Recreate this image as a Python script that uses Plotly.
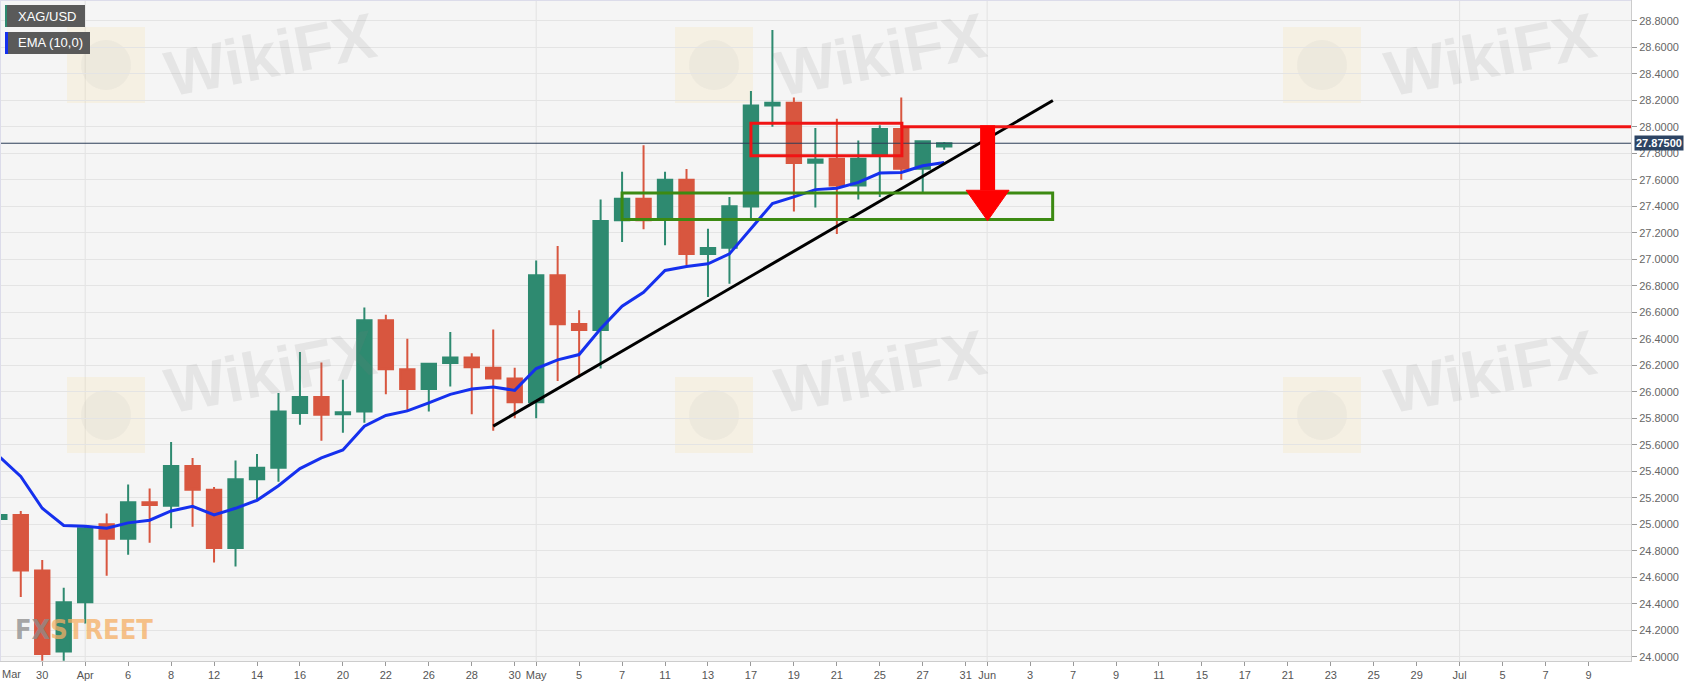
import plotly.graph_objects as go

# ---------------- data ----------------
dates = ["2021-03-26", "2021-03-29", "2021-03-30", "2021-03-31", "2021-04-01",
         "2021-04-05", "2021-04-06", "2021-04-07", "2021-04-08", "2021-04-09",
         "2021-04-12", "2021-04-13", "2021-04-14", "2021-04-15", "2021-04-16",
         "2021-04-19", "2021-04-20", "2021-04-21", "2021-04-22", "2021-04-23",
         "2021-04-26", "2021-04-27", "2021-04-28", "2021-04-29", "2021-04-30",
         "2021-05-03", "2021-05-04", "2021-05-05", "2021-05-06", "2021-05-07",
         "2021-05-10", "2021-05-11", "2021-05-12", "2021-05-13", "2021-05-14",
         "2021-05-17", "2021-05-18", "2021-05-19", "2021-05-20", "2021-05-21",
         "2021-05-24", "2021-05-25", "2021-05-26", "2021-05-27", "2021-05-28"]

future_dates = ["2021-05-31", "2021-06-01", "2021-06-02", "2021-06-03", "2021-06-04",
                "2021-06-07", "2021-06-08", "2021-06-09", "2021-06-10", "2021-06-11",
                "2021-06-14", "2021-06-15", "2021-06-16", "2021-06-17", "2021-06-18",
                "2021-06-21", "2021-06-22", "2021-06-23", "2021-06-24", "2021-06-25",
                "2021-06-28", "2021-06-29", "2021-06-30", "2021-07-01", "2021-07-02",
                "2021-07-05", "2021-07-06", "2021-07-07", "2021-07-08", "2021-07-09",
                "2021-07-12"]

open_ = [25.04, 25.07, 24.65, 24.04, 24.41, 25.00, 24.89, 25.165, 25.14, 25.44,
         25.26, 24.82, 25.34, 25.425, 25.84, 25.96, 25.83, 25.85, 26.54, 26.17,
         26.02, 26.216, 26.258, 26.18, 26.10, 25.92, 26.878, 26.51, 26.465, 27.293,
         27.456, 27.30, 27.60, 27.04, 27.087, 27.398, 28.16, 28.18, 27.727, 27.757,
         27.556, 27.78, 27.983, 27.682, 27.85]
high = [25.24, 25.10, 24.73, 24.52, 24.98, 25.08, 25.30, 25.27, 25.62, 25.50,
        25.28, 25.48, 25.53, 25.99, 26.30, 26.22, 26.09, 26.635, 26.58, 26.40,
        26.215, 26.45, 26.29, 26.47, 26.18, 26.99, 27.10, 26.615, 27.45, 27.66,
        27.86, 27.66, 27.68, 27.23, 27.47, 28.27, 28.73, 28.22, 27.99, 28.06,
        27.895, 28.01, 28.22, 27.89, 27.885]
low = [24.87, 24.45, 23.97, 23.97, 24.25, 24.61, 24.77, 24.86, 24.97, 24.98,
       24.71, 24.68, 25.19, 25.32, 25.75, 25.63, 25.69, 25.766, 25.98, 25.86,
       25.85, 26.04, 25.83, 25.705, 25.80, 25.80, 26.08, 26.105, 26.175, 27.13,
       27.225, 27.105, 26.955, 26.715, 26.815, 27.29, 28.00, 27.36, 27.39, 27.19,
       27.45, 27.47, 27.60, 27.506, 27.825]
close = [25.07, 24.65, 24.02, 24.41, 24.97, 24.89, 25.165, 25.145, 25.44, 25.26,
         24.82, 25.34, 25.425, 25.85, 25.96, 25.826, 25.845, 26.54, 26.17, 26.02,
         26.21, 26.258, 26.185, 26.10, 25.92, 26.878, 26.509, 26.465, 27.288, 27.456,
         27.293, 27.60, 27.04, 27.085, 27.40, 28.16, 28.18, 27.725, 27.752, 27.556,
         27.757, 27.983, 27.682, 27.89, 27.875]
ema10 = [25.51, 25.36, 25.12, 24.99, 24.985, 24.97, 25.01, 25.03, 25.10, 25.135,
         25.07, 25.12, 25.18, 25.29, 25.42, 25.50, 25.56, 25.74, 25.82, 25.855,
         25.915, 25.98, 26.02, 26.035, 26.01, 26.175, 26.24, 26.28, 26.475, 26.645,
         26.75, 26.915, 26.945, 26.965, 27.04, 27.23, 27.42, 27.47, 27.525, 27.535,
         27.58, 27.65, 27.655, 27.705, 27.73]
last_price = 27.875

tick_dates = ["2021-03-30", "2021-04-01", "2021-04-06", "2021-04-08", "2021-04-12",
              "2021-04-14", "2021-04-16", "2021-04-20", "2021-04-22", "2021-04-26",
              "2021-04-28", "2021-04-30", "2021-05-03", "2021-05-05", "2021-05-07",
              "2021-05-11", "2021-05-13", "2021-05-17", "2021-05-19", "2021-05-21",
              "2021-05-25", "2021-05-27", "2021-05-31", "2021-06-01", "2021-06-03",
              "2021-06-07", "2021-06-09", "2021-06-11", "2021-06-15", "2021-06-17",
              "2021-06-21", "2021-06-23", "2021-06-25", "2021-06-29", "2021-07-01",
              "2021-07-05", "2021-07-07", "2021-07-09"]
tick_labels = ["30", "Apr", "6", "8", "12", "14", "16", "20", "22", "26", "28", "30",
               "May", "5", "7", "11", "13", "17", "19", "21", "25", "27", "31", "Jun",
               "3", "7", "9", "11", "15", "17", "21", "23", "25", "29", "Jul", "5", "7", "9"]
month_starts = ["2021-04-01", "2021-05-03", "2021-06-01", "2021-07-01"]

# drawings (x in trading-day serial numbers, y in price)
trend_x = [23.0, 49.06]
trend_y = [25.74, 28.197]
red_box_x = [35.0, 42.03]
red_box_y = [27.78, 28.025]
red_level = 28.0
green_box_x = [29.0, 49.05]
green_box_y = [27.30, 27.50]
arrow_x = 46.02
arrow_y = [28.01, 27.52, 27.29]

# ---------------- styling ----------------
GREEN = "#2e8a70"
RED = "#d8563f"
EMA_BLUE = "#1530ee"
all_dates = dates + future_dates
idx = {d: i for i, d in enumerate(all_dates)}

W, H = 1707, 687
ML, MR, MT, MB = 0, 76, 0, 26
PW, PH = W - ML - MR, H - MT - MB


def px(x):
    return x / PW


def py(y):
    return 1 - y / PH


fig = go.Figure()

fig.add_trace(go.Candlestick(
    x=dates, open=open_, high=high, low=low, close=close,
    increasing=dict(line=dict(color=GREEN, width=2), fillcolor=GREEN),
    decreasing=dict(line=dict(color=RED, width=2), fillcolor=RED),
    whiskerwidth=0, showlegend=False, hoverinfo="skip"))

fig.add_trace(go.Scatter(x=dates, y=ema10, mode="lines",
                         line=dict(color=EMA_BLUE, width=3),
                         showlegend=False, hoverinfo="skip"))

shapes = []
# month gridlines
for d in month_starts:
    shapes.append(dict(type="line", xref="x", yref="paper", x0=idx[d], x1=idx[d],
                       y0=0, y1=1, line=dict(color="#e2e2e2", width=1), layer="below"))

# watermarks (logo squares)
for cx in (67, 675, 1283):
    for cy in (27, 377):
        shapes.append(dict(type="rect", xref="paper", yref="paper",
                           x0=px(cx), x1=px(cx + 78), y0=py(cy), y1=py(cy + 76),
                           fillcolor="rgba(250,214,120,0.14)", line=dict(width=0),
                           layer="below"))
        shapes.append(dict(type="circle", xref="paper", yref="paper",
                           x0=px(cx + 14), x1=px(cx + 64), y0=py(cy + 13), y1=py(cy + 63),
                           fillcolor="rgba(150,150,150,0.08)", line=dict(width=0),
                           layer="below"))

# last price line
shapes.append(dict(type="line", xref="x", yref="y", x0=-2, x1=90,
                   y0=last_price, y1=last_price, line=dict(color="#2c3e58", width=1)))
# trend line
shapes.append(dict(type="line", xref="x", yref="y", x0=trend_x[0], x1=trend_x[1],
                   y0=trend_y[0], y1=trend_y[1], line=dict(color="black", width=3)))
# green box
shapes.append(dict(type="rect", xref="x", yref="y", x0=green_box_x[0], x1=green_box_x[1],
                   y0=green_box_y[0], y1=green_box_y[1],
                   line=dict(color="#3c8a12", width=3)))
# red box
shapes.append(dict(type="rect", xref="x", yref="y", x0=red_box_x[0], x1=red_box_x[1],
                   y0=red_box_y[0], y1=red_box_y[1],
                   line=dict(color="#f01414", width=3)))
# red level line
shapes.append(dict(type="line", xref="x", yref="y", x0=red_box_x[1], x1=90,
                   y0=red_level, y1=red_level, line=dict(color="#f01414", width=3)))
# arrow
shapes.append(dict(type="line", xref="x", yref="y", x0=arrow_x, x1=arrow_x,
                   y0=arrow_y[0], y1=arrow_y[1], line=dict(color="#ff0000", width=15)))
shapes.append(dict(type="path", xref="x", yref="y",
                   path=f"M {arrow_x - 1.0},{arrow_y[1]} L {arrow_x + 1.0},{arrow_y[1]} "
                        f"L {arrow_x},{arrow_y[2]} Z",
                   fillcolor="#ff0000", line=dict(color="#ff0000", width=1)))

# legend boxes
shapes.append(dict(type="rect", xref="paper", yref="paper", x0=px(5), x1=px(85),
                   y0=py(5), y1=py(27), fillcolor="#5a5a5a", line=dict(width=0)))
shapes.append(dict(type="rect", xref="paper", yref="paper", x0=px(5), x1=px(7),
                   y0=py(5), y1=py(27), fillcolor=GREEN, line=dict(width=0)))
shapes.append(dict(type="rect", xref="paper", yref="paper", x0=px(5), x1=px(90),
                   y0=py(32), y1=py(54), fillcolor="#5a5a5a", line=dict(width=0)))
shapes.append(dict(type="rect", xref="paper", yref="paper", x0=px(5), x1=px(8),
                   y0=py(32), y1=py(54), fillcolor=EMA_BLUE, line=dict(width=0)))
# plot border top/left
shapes.append(dict(type="line", xref="paper", yref="paper", x0=0, x1=1, y0=1, y1=1,
                   line=dict(color="#dcdcea", width=2)))
shapes.append(dict(type="line", xref="paper", yref="paper", x0=0, x1=0, y0=0, y1=1,
                   line=dict(color="#dcdcea", width=2)))

annotations = []
for cx in (270, 880, 1490):
    for cy in (55, 372):
        annotations.append(dict(xref="paper", yref="paper", x=px(cx), y=py(cy),
                                xanchor="center", yanchor="middle",
                                text="<b>WikiFX</b>", showarrow=False, textangle=-11,
                                font=dict(family="Liberation Sans", size=64,
                                          color="rgba(120,120,120,0.13)")))
annotations += [
    dict(xref="paper", yref="paper", x=px(16), y=py(16), xanchor="left", yanchor="middle",
         text="XAG/USD", showarrow=False,
         font=dict(family="Liberation Sans", size=13, color="white")),
    dict(xref="paper", yref="paper", x=px(16), y=py(43), xanchor="left", yanchor="middle",
         text="EMA (10,0)", showarrow=False,
         font=dict(family="Liberation Sans", size=13, color="white")),
    dict(xref="paper", yref="y", x=px(PW + 3), y=last_price, xanchor="left",
         yanchor="middle",
         text="<b>27.87500</b>", showarrow=False, bgcolor="#2d4463", borderpad=1,
         font=dict(family="Liberation Sans", size=11, color="white")),
    dict(xref="paper", yref="paper", x=0, y=py(674), xanchor="left", yanchor="middle",
         text="Mar", showarrow=False,
         font=dict(family="Liberation Sans", size=11, color="#555")),
    dict(xref="paper", yref="paper", x=px(13), y=py(629), xanchor="left", yanchor="middle",
         text="<b><span style='color:rgba(140,140,140,0.75)'>FX</span>"
              "<span style='color:rgba(245,175,100,0.75)'>STREET</span></b>",
         showarrow=False,
         font=dict(family="DejaVu Sans Condensed, Liberation Sans", size=27)),
]

fig.update_layout(
    width=W, height=H,
    margin=dict(l=ML, r=MR, t=MT, b=MB, pad=0),
    paper_bgcolor="white", plot_bgcolor="#f5f5f5",
    boxgap=0.33, boxgroupgap=0,
    shapes=shapes, annotations=annotations, showlegend=False,
    xaxis=dict(type="category", categoryorder="array", categoryarray=all_dates,
               range=[0.033, 75.98], tickmode="array", tickvals=tick_dates,
               ticktext=tick_labels, showgrid=False, zeroline=False,
               showline=True, linecolor="#cccccc", linewidth=1,
               ticks="outside", ticklen=4, tickcolor="#999999",
               tickfont=dict(family="Liberation Sans", size=11, color="#555555"),
               rangeslider=dict(visible=False), fixedrange=True),
    yaxis=dict(side="right", range=[23.9675, 28.956], tick0=24, dtick=0.2,
               tickformat=".4f", showgrid=True, gridcolor="#e4e4e4", gridwidth=1,
               zeroline=False, showline=True, linecolor="#cccccc", linewidth=1,
               ticks="outside", ticklen=5, tickcolor="#999999",
               tickfont=dict(family="Liberation Sans", size=11, color="#666666"),
               fixedrange=True),
)

fig.write_html("out.html", config={"displayModeBar": False},
               post_script="document.body.style.margin='0';document.body.style.overflow='hidden';")
